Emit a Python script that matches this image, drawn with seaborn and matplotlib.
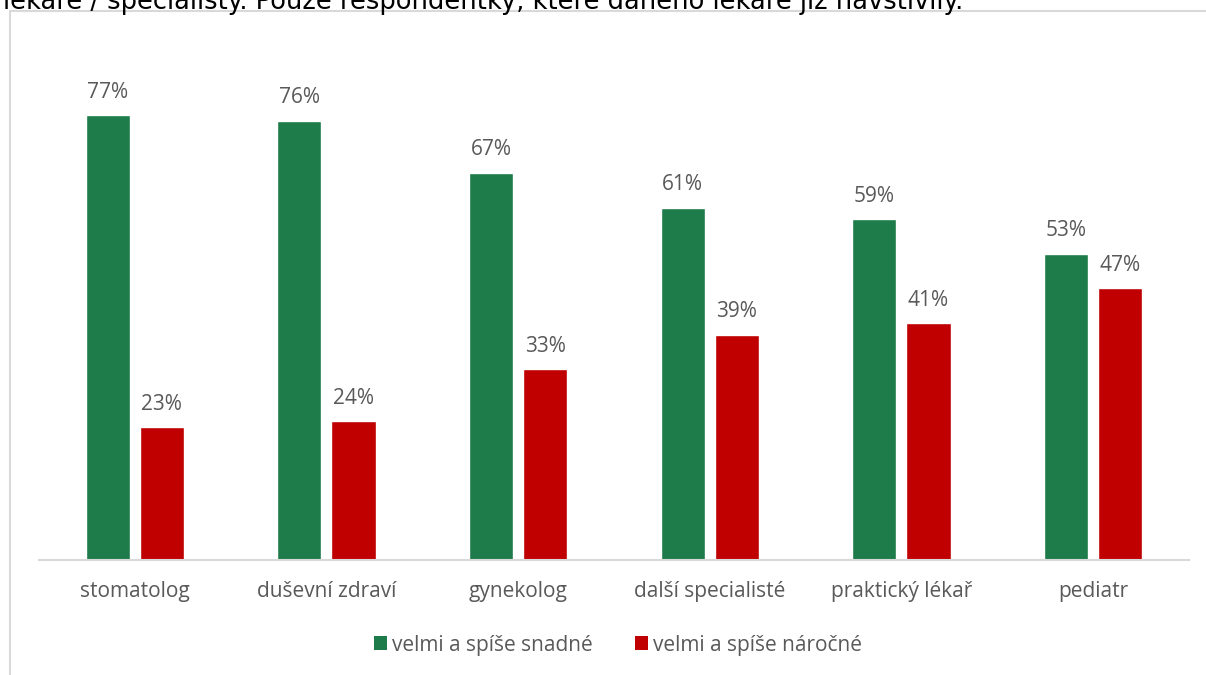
import matplotlib
matplotlib.use("Agg")
import matplotlib.pyplot as plt
import seaborn as sns
import pandas as pd
from matplotlib.lines import Line2D
from matplotlib.patches import Patch

categories = ["stomatolog", "duševní zdraví", "gynekolog", "další specialisté",
              "praktický lékař", "pediatr"]
easy = [77, 76, 67, 61, 59, 53]
hard = [23, 24, 33, 39, 41, 47]
series_names = ["velmi a spíše snadné", "velmi a spíše náročné"]
colors = ["#1E7B4A", "#C00000"]
header = "lékaře / specialisty. Pouze respondentky, které daného lékaře již navštívily."

df = pd.DataFrame({
    "kategorie": categories * 2,
    "podil": easy + hard,
    "skupina": [series_names[0]] * len(categories) + [series_names[1]] * len(categories),
})

sns.set_theme(style="white")
plt.rcParams["font.family"] = ["Open Sans", "DejaVu Sans"]

fig = plt.figure(figsize=(12.06, 6.75), dpi=100)
ax = fig.add_axes([0.0323, 0.1704, 0.9536, 0.7704])

sns.barplot(data=df, x="kategorie", y="podil", hue="skupina",
            palette=colors, width=0.564, gap=0.185, ax=ax, legend=False,
            saturation=1)

for cont in ax.containers:
    ax.bar_label(cont, fmt="%.0f%%", padding=9, fontsize=15, color="#595959")

ax.set_ylim(0, 90)
ax.set_xlim(-0.5, len(categories) - 0.5)
ax.set_xlabel("")
ax.set_ylabel("")
ax.set_yticks([])
ax.tick_params(axis="x", length=0, pad=15, labelsize=15, labelcolor="#595959")
for side in ["left", "right", "top"]:
    ax.spines[side].set_visible(False)
ax.spines["bottom"].set_color("#D9D9D9")
ax.spines["bottom"].set_linewidth(1.5)

handles = [Patch(facecolor=c, edgecolor="none") for c in colors]
fig.legend(handles, series_names, loc="center", bbox_to_anchor=(618 / 1206, 1 - 645 / 675),
           ncol=2, frameon=False, fontsize=15, handlelength=0.65, handleheight=0.65,
           handletextpad=0.25, columnspacing=2.0, labelcolor="#595959")

# chart-area frame
fig.add_artist(Line2D([10 / 1206, 10 / 1206], [0, 1 - 12 / 675],
                      transform=fig.transFigure, color="#D9D9D9", lw=1.5))
fig.add_artist(Line2D([10 / 1206, 1], [1 - 11 / 675, 1 - 11 / 675],
                      transform=fig.transFigure, color="#D9D9D9", lw=1.5))

fig.text(3 / 1206, 1 - 9 / 675, header, fontsize=18.5, color="black",
         ha="left", va="baseline", family=["DejaVu Sans"])

fig.savefig("out.png", dpi=100)
